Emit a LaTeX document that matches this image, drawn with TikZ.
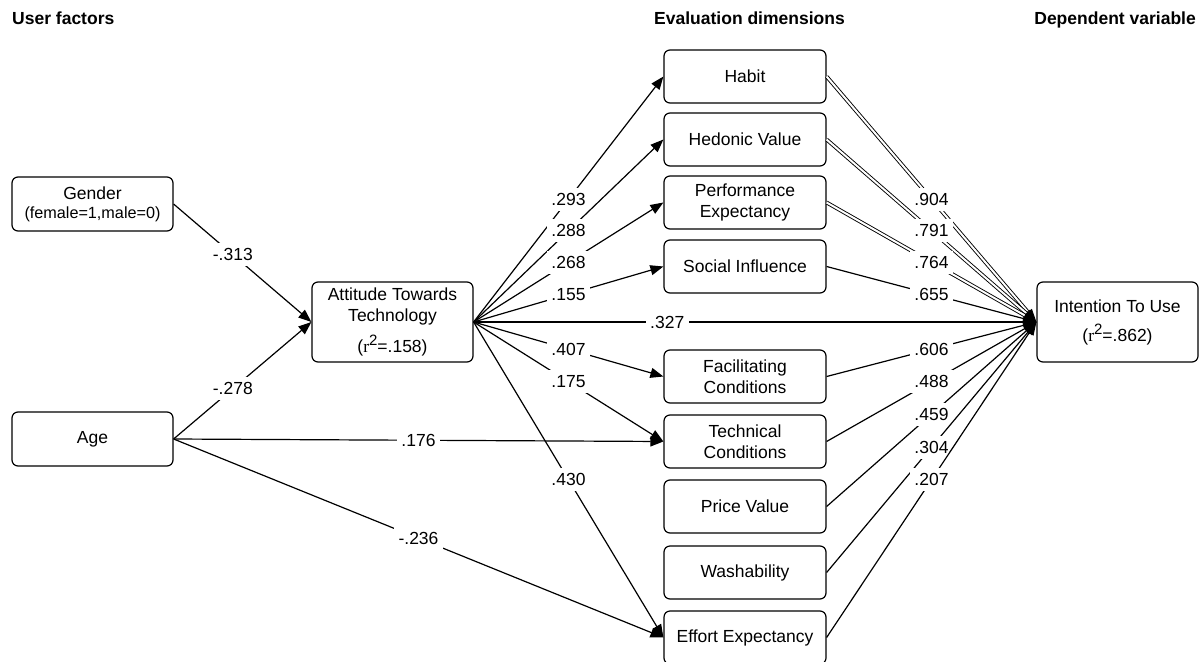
\documentclass[tikz,border=0pt]{standalone}
\usepackage{fontspec}
\setmainfont{Liberation Sans}
\newfontfamily\serifr{Liberation Serif}
\usetikzlibrary{arrows.meta}

\newcommand{\rsq}[1]{({\serifr r}\raisebox{7pt}{\fontsize{15}{15}\selectfont 2}=#1)}

\begin{document}
\begin{tikzpicture}[x=1pt,y=-1pt,
  every node/.style={font=\fontsize{17.5}{21}\selectfont},
  box/.style={draw, line width=1.2pt, rounded corners=6pt, minimum width=161pt,
    minimum height=54pt, align=center, inner sep=0pt},
  dim/.style={box, minimum width=162pt, minimum height=53pt},
  head/.style={font=\fontsize{17.5}{21}\selectfont\bfseries, inner sep=0pt},
  lbl/.style={fill=white, inner xsep=4.5pt, inner ysep=5.5pt},
  arr/.style={line width=1.2pt, -{Triangle[length=13pt,width=10pt]}},
  dbl/.style={arr, double, double distance=2pt, line width=0.9pt},
]
\useasboundingbox (0,0) rectangle (1204,661);

% column headers
\node[head, anchor=base west] (hdusr) at (12,25) {User factors};
\node[head, anchor=base] (hdeval) at (749.5,25) {Evaluation dimensions};
\node[head, anchor=base east] (hddep) at (1196,25) {Dependent variable};

% user factors
\node[box] (gender) at (92.5,204) {Gender\\[-2pt]{\fontsize{16.2}{19}\selectfont (female=1,male=0)}};
\node[box] (age) at (92.5,439) {Age};
\node[box, minimum height=80pt] (att) at (392.5,322)
  {Attitude Towards\\Technology\\[8pt]\rsq{.158}};

% evaluation dimensions
\node[dim] (habit) at (745,76.5) {Habit};
\node[dim] (hedon) at (745,139.5) {Hedonic Value};
\node[dim] (perf) at (745,202.5) {Performance\\Expectancy};
\node[dim] (social) at (745,266.5) {Social Influence};
\node[dim] (facil) at (745,376.5) {Facilitating\\Conditions};
\node[dim] (tech) at (745,441.5) {Technical\\Conditions};
\node[dim] (price) at (745,506.5) {Price Value};
\node[dim] (wash) at (745,572.5) {Washability};
\node[dim] (effort) at (745,637.5) {Effort Expectancy};

% dependent variable
\node[box, minimum height=80pt] (intent) at (1117.5,322)
  {Intention To Use\\[8pt]\rsq{.862}};

% user factors -> attitude
\draw[arr] (gender.east) -- node[lbl, pos=0.43] {-.313} (att.west);
\draw[arr] (age.east) -- node[lbl, pos=0.43] {-.278} (att.west);
\draw[arr] (age.east) -- node[lbl] {.176} (tech.west);
\draw[arr] (age.east) -- node[lbl] {-.236} (effort.west);

% attitude -> dimensions
\draw[arr] (att.east) -- node[lbl] {.293} (habit.west);
\draw[arr] (att.east) -- node[lbl] {.288} (hedon.west);
\draw[arr] (att.east) -- node[lbl] {.268} (perf.west);
\draw[arr] (att.east) -- node[lbl] {.155} (social.west);
\draw[arr] (att.east) -- node[lbl] {.407} (facil.west);
\draw[arr] (att.east) -- node[lbl] {.175} (tech.west);
\draw[arr] (att.east) -- node[lbl] {.430} (effort.west);
\draw[arr] (att.east) -- node[lbl, pos=0.344] {.327} (intent.west);

% dimensions -> intention
\draw[dbl] (habit.east) -- node[lbl] {.904} (intent.west);
\draw[dbl] (hedon.east) -- node[lbl] {.791} (intent.west);
\draw[dbl] (perf.east) -- node[lbl] {.764} (intent.west);
\draw[arr] (social.east) -- node[lbl] {.655} (intent.west);
\draw[arr] (facil.east) -- node[lbl] {.606} (intent.west);
\draw[arr] (tech.east) -- node[lbl] {.488} (intent.west);
\draw[arr] (price.east) -- node[lbl] {.459} (intent.west);
\draw[arr] (wash.east) -- node[lbl] {.304} (intent.west);
\draw[arr] (effort.east) -- node[lbl] {.207} (intent.west);

\end{tikzpicture}
\end{document}
